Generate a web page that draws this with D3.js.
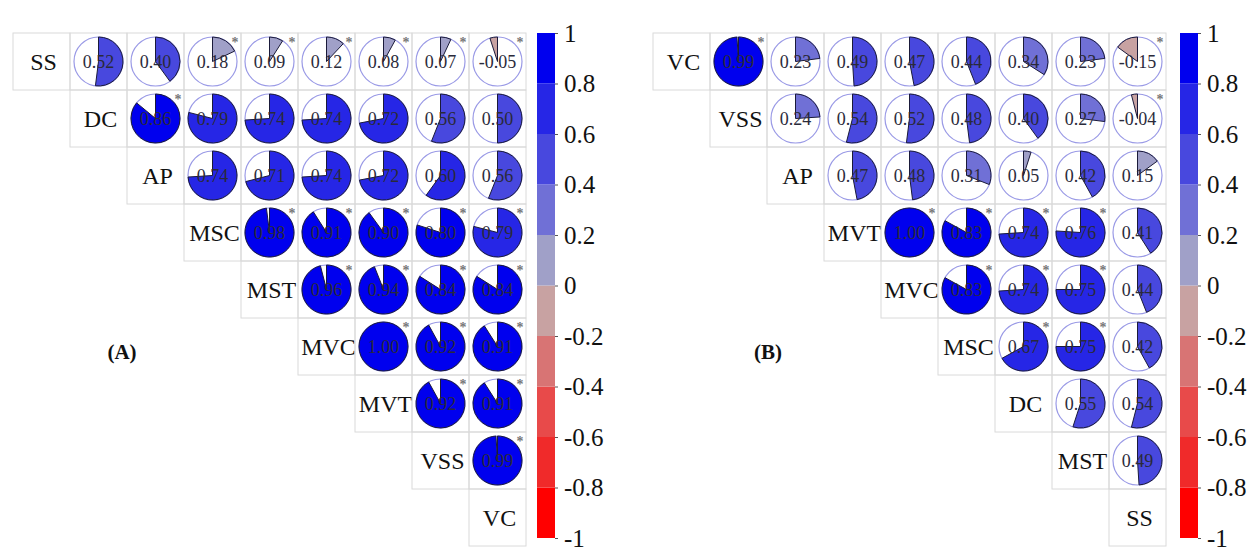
<!DOCTYPE html>
<html><head><meta charset="utf-8">
<script src="https://cdn.jsdelivr.net/npm/d3@7"></script>
<style>body{margin:0;background:#fff}</style>
</head><body>
<svg id="c" width="1256" height="551"></svg>
<script>
const varsA = ["SS","DC","AP","MSC","MST","MVC","MVT","VSS","VC"];
const valsA = [
  [0.52,0.40,0.18,0.09,0.12,0.08,0.07,-0.05],
  [0.86,0.79,0.74,0.74,0.72,0.56,0.50],
  [0.74,0.71,0.74,0.72,0.60,0.56],
  [0.98,0.91,0.90,0.80,0.79],
  [0.96,0.94,0.84,0.84],
  [1.00,0.92,0.91],
  [0.92,0.91],
  [0.99],
  []
];
const sigA = [
  [0,0,1,1,1,1,1,1],
  [1,0,0,0,0,0,0],
  [0,0,0,0,0,0],
  [1,1,1,1,1],
  [1,1,1,1],
  [1,1,1],
  [1,1],
  [1],
  []
];
const varsB = ["VC","VSS","AP","MVT","MVC","MSC","DC","MST","SS"];
const valsB = [
  [0.99,0.23,0.49,0.47,0.44,0.34,0.23,-0.15],
  [0.24,0.54,0.52,0.48,0.40,0.27,-0.04],
  [0.47,0.48,0.31,0.05,0.42,0.15],
  [1.00,0.83,0.74,0.76,0.41],
  [0.83,0.74,0.75,0.44],
  [0.67,0.75,0.42],
  [0.55,0.54],
  [0.49],
  []
];
const sigB = [
  [1,0,0,0,0,0,0,1],
  [0,0,0,0,0,0,1],
  [0,0,0,0,0,0],
  [1,1,1,1,0],
  [1,1,1,0],
  [1,1,0],
  [0,0],
  [0],
  []
];
const colorTicks = [1,0.8,0.6,0.4,0.2,0,-0.2,-0.4,-0.6,-0.8,-1];
const bandColors = ["#ff0000","#f02a2a","#e84a4a","#d87474","#c8a2a2","#a0a0c8","#7070d6","#4848de","#2626e6","#0000ee"];

const svg = d3.select("#c");
const color = d3.scaleThreshold()
  .domain([-0.8,-0.6,-0.4,-0.2,0,0.2,0.4,0.6,0.8])
  .range(bandColors);
const serif = "'Liberation Serif','Times New Roman',serif";

function panel(vars, vals, sig, x0, barX, label, labelX) {
  const n = vars.length, size = 57;
  const x = d3.scaleBand().domain(vars).range([x0, x0 + size*n]);
  const y = d3.scaleBand().domain(vars).range([33, 33 + size*n]);
  const g = svg.append("g");
  const r = 24.5;
  const arc = d3.arc().innerRadius(0).outerRadius(r);
  vars.forEach((rv, i) => {
    g.append("rect").attr("x", x(rv)).attr("y", y(rv)).attr("width", size).attr("height", size)
      .attr("fill", "none").attr("stroke", "#dadada");
    g.append("text").attr("x", x(rv) + size/2 + 2).attr("y", y(rv) + size/2 + 8)
      .attr("text-anchor", "middle").attr("font-family", serif).attr("font-size", 24)
      .attr("fill", "#111").text(rv);
    vals[i].forEach((v, k) => {
      const cv = vars[i + 1 + k];
      const cx = x(cv) + size/2, cy = y(rv) + size/2;
      g.append("rect").attr("x", x(cv)).attr("y", y(rv)).attr("width", size).attr("height", size)
        .attr("fill", "none").attr("stroke", "#dadada");
      g.append("circle").attr("cx", cx).attr("cy", cy).attr("r", r)
        .attr("fill", "#fff").attr("stroke", "#9a9ae6").attr("stroke-width", 1.2);
      g.append("path").attr("transform", `translate(${cx},${cy})`)
        .attr("d", arc({startAngle: 0, endAngle: 2*Math.PI*v}))
        .attr("fill", color(v)).attr("stroke", "#1a1a3a").attr("stroke-width", 1);
      g.append("text").attr("x", cx).attr("y", cy + 6).attr("text-anchor", "middle")
        .attr("font-family", serif).attr("font-size", 18).attr("fill", "#2a2a3a")
        .text(v.toFixed(2));
      if (sig[i][k]) {
        g.append("text").attr("x", x(cv) + size - 6).attr("y", y(rv) + 14)
          .attr("text-anchor", "middle").attr("font-family", serif).attr("font-size", 14)
          .attr("font-weight", "bold").attr("fill", "#777").text("*");
      }
    });
  });
  const yb = d3.scaleLinear().domain([1, -1]).range([33, 538]);
  const cb = svg.append("g");
  bandColors.forEach((c, i) => {
    const lo = -1 + i*0.2, hi = lo + 0.2;
    cb.append("rect").attr("x", barX).attr("y", yb(hi)).attr("width", 18)
      .attr("height", yb(lo) - yb(hi)).attr("fill", c);
  });
  const ax = cb.append("g").attr("transform", `translate(${barX + 18},0)`)
    .call(d3.axisRight(yb).tickValues(colorTicks).tickSize(3).tickPadding(6)
      .tickFormat(d => d === 0 ? "0" : String(+d.toFixed(1))));
  ax.select(".domain").remove();
  ax.selectAll("line").attr("stroke", "#555");
  ax.selectAll("text").attr("font-family", serif).attr("font-size", 25).attr("fill", "#111");
  svg.append("text").attr("x", labelX).attr("y", 359).attr("text-anchor", "middle")
    .attr("font-family", serif).attr("font-size", 21).attr("font-weight", "bold")
    .attr("fill", "#111").text(label);
}
panel(varsA, valsA, sigA, 13, 537, "(A)", 122);
panel(varsB, valsB, sigB, 653, 1180, "(B)", 768);
</script>
</body></html>
